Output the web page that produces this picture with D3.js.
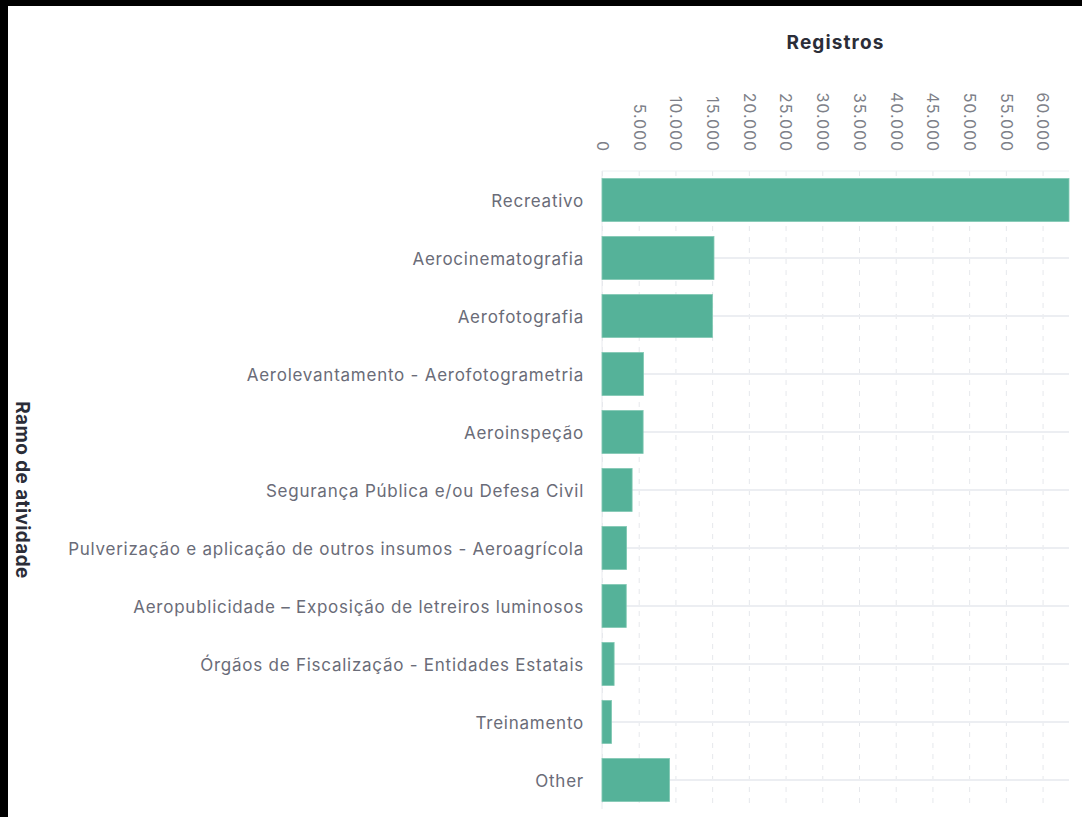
<!DOCTYPE html>
<html>
<head>
<meta charset="utf-8">
<script src="https://cdn.jsdelivr.net/npm/d3@7"></script>
<style>
  body { margin: 0; background: #fff; }
  text { font-family: Inter, "Open Sans", sans-serif; }
</style>
</head>
<body>
<script>
// data
let categories = [
    'Recreativo',
    'Aerocinematografia',
    'Aerofotografia',
    'Aerolevantamento - Aerofotogrametria',
    'Aeroinspeção',
    'Segurança Pública e/ou Defesa Civil',
    'Pulverização e aplicação de outros insumos - Aeroagrícola',
    'Aeropublicidade – Exposição de letreiros luminosos',
    'Órgãos de Fiscalização - Entidades Estatais',
    'Treinamento',
    'Other'
]
let registros = [63600, 15250, 15050, 5650, 5600, 4100, 3350, 3300, 1650, 1300, 9200]
let tickValues = [0, 5000, 10000, 15000, 20000, 25000, 30000, 35000, 40000, 45000, 50000, 55000, 60000]
let xMax = 63600

let data = categories.map((c, i) => ({ramo: c, registros: registros[i]}))

let svgWidth = 1082
let svgHeight = 817
let margin = {top: 171, right: 13, bottom: 8, left: 602}
let innerWidth = svgWidth - margin.left - margin.right
let innerHeight = svgHeight - margin.top - margin.bottom

let svg = d3.select('body').append('svg')
    .attr('width', svgWidth)
    .attr('height', svgHeight)

svg.append('rect').attr('width', svgWidth).attr('height', svgHeight).attr('fill', '#fff')
// black frame at the top and left edge of the screenshot
svg.append('rect').attr('width', svgWidth).attr('height', 6).attr('fill', '#000')
svg.append('rect').attr('width', 8).attr('height', svgHeight).attr('fill', '#000')

let inner = svg.append('g')
    .attr('transform', 'translate(' + margin.left + ',' + margin.top + ')')

let ptBR = d3.formatLocale({decimal: ',', thousands: '.', grouping: [3], currency: ['R$', '']})
let fmt = ptBR.format(',')

let xScale = d3.scaleLinear()
    .domain([0, xMax])
    .range([0, innerWidth])

let yScale = d3.scaleBand()
    .domain(categories)
    .range([0, innerHeight])
    .paddingInner(0.26)
    .paddingOuter(0.13)

// vertical dashed grid
let xGrid = inner.append('g')
    .call(d3.axisTop(xScale).tickValues(tickValues).tickSize(-innerHeight).tickFormat(''))
xGrid.select('.domain').remove()
xGrid.selectAll('line')
    .attr('stroke', '#e6e8ec')
    .attr('stroke-dasharray', '5,6')

// horizontal grid through each category
let yGrid = inner.append('g')
    .call(d3.axisLeft(yScale).tickSize(-innerWidth).tickFormat(''))
yGrid.select('.domain').remove()
yGrid.selectAll('line')
    .attr('stroke', '#eceef2')
    .attr('stroke-width', 2)

// left and top axis lines
inner.append('line')
    .attr('x1', 0).attr('x2', 0).attr('y1', 0).attr('y2', innerHeight)
    .attr('stroke', '#e8eaee')
inner.append('line')
    .attr('x1', 0).attr('x2', innerWidth).attr('y1', 0).attr('y2', 0)
    .attr('stroke', '#eef0f3')

// bars
inner.selectAll('.bar')
    .data(data)
    .join('rect')
    .classed('bar', true)
    .attr('x', 0)
    .attr('y', d => yScale(d.ramo))
    .attr('width', d => xScale(d.registros))
    .attr('height', yScale.bandwidth())
    .attr('fill', '#55b299')
    .attr('stroke', '#7fc8b2')
    .attr('stroke-width', 0.8)

// x axis labels (rotated)
let xAxis = inner.append('g')
    .call(d3.axisTop(xScale).tickValues(tickValues).tickSize(0).tickFormat(fmt))
xAxis.select('.domain').remove()
xAxis.selectAll('text')
    .attr('transform', 'rotate(90)')
    .attr('x', -19)
    .attr('y', 0)
    .attr('dy', '0.35em')
    .attr('text-anchor', 'end')
    .attr('fill', '#7d7f88')
    .style('font-size', '16px')
    .style('letter-spacing', '0.9px')

// y axis labels
let yAxis = inner.append('g')
    .call(d3.axisLeft(yScale).tickSize(0).tickPadding(18))
yAxis.select('.domain').remove()
yAxis.selectAll('text')
    .attr('dy', '0.42em')
    .attr('fill', '#6a6c78')
    .style('font-size', '17px')
    .style('letter-spacing', '0.75px')

// axis titles
svg.append('text')
    .attr('x', margin.left + innerWidth / 2)
    .attr('y', 49)
    .attr('text-anchor', 'middle')
    .attr('fill', '#2b2d38')
    .style('font-size', '19px')
    .style('font-weight', 'bold')
    .style('letter-spacing', '1.1px')
    .text('Registros')

svg.append('text')
    .attr('transform', 'translate(16,' + (margin.top + innerHeight / 2) + ') rotate(90)')
    .attr('text-anchor', 'middle')
    .attr('fill', '#2b2d38')
    .style('font-size', '19px')
    .style('font-weight', 'bold')
    .style('letter-spacing', '0.4px')
    .text('Ramo de atividade')
</script>
</body>
</html>
